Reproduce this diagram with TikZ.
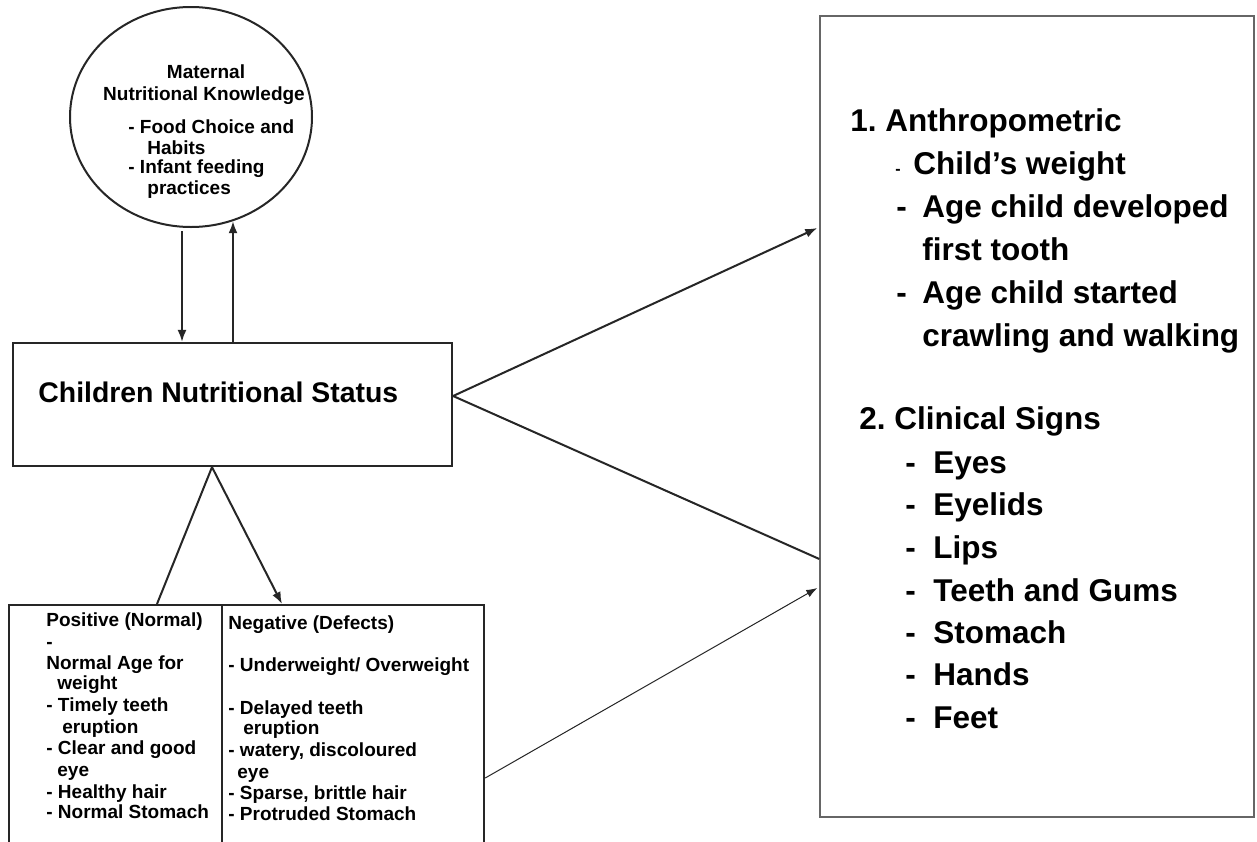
\documentclass[tikz,border=0pt]{standalone}
\usepackage{fontspec}
\setmainfont{Liberation Sans}
\usetikzlibrary{arrows.meta,shapes.geometric,calc}
\frenchspacing
\tikzset{
  base/.style={inner sep=0pt, anchor=west, text depth=0pt, text=black},
  el/.style={base, font=\fontsize{9.5pt}{11pt}\selectfont\bfseries, text height=6.8pt},
  tb/.style={base, font=\fontsize{9.5pt}{11pt}\selectfont\bfseries, text height=6.8pt},
  rt/.style={base, font=\fontsize{15.75pt}{18pt}\selectfont\bfseries, text height=11.3pt},
  box/.style={draw=black!85, line width=1.1pt, fill=none, inner sep=0pt},
  arr/.style={draw=black!85, line width=1pt, -{Latex[length=6pt,width=4.5pt]}},
  ln/.style={draw=black!85, line width=1pt},
  thinarr/.style={draw=black!85, line width=0.5pt, -{Latex[length=5.5pt,width=4pt]}},
}
\newcommand{\dsh}{\makebox[13pt][l]{-}}
\newcommand{\dshb}{\makebox[14pt][l]{-}}
\begin{document}
\begin{tikzpicture}[x=0.5pt,y=-0.5pt]
\useasboundingbox (0,0) rectangle (1257,841);
\clip (0,0) rectangle (1257,841);
\fill[white] (0,0) rectangle (1257,841);

% ellipse
\node[draw=black!85, line width=1pt, ellipse, minimum width=121pt, minimum height=110pt, inner sep=0pt] (mnk) at (191,117) {};
\node[el, anchor=center] (m1) at (206,72) {Maternal};
\node[el, anchor=center] (m2) at (204,94) {Nutritional Knowledge};
\node[el] (m3) at (128,127) {- Food Choice and};
\node[el] (m4) at (147,148) {Habits};
\node[el] (m5) at (128,167) {- Infant feeding};
\node[el] (m6) at (147,188) {practices};

% central box
\node[box, minimum width=219.5pt, minimum height=61.5pt] (cns) at (232.5,404.5) {};
\node[base, font=\fontsize{14.2pt}{16pt}\selectfont\bfseries, text height=10.2pt] (cnst) at (38,392) {Children Nutritional Status};

% arrows ellipse <-> box
\coordinate (d1) at (182,0);
\coordinate (u1) at (233,0);
\draw[arr] (d1 |- mnk.south) ++(0,3) -- (cns.north -| d1);
\draw[arr] (cns.north -| u1) -- (u1 |- mnk.-68);

% bottom table
\node[box, anchor=north west, minimum width=237.5pt, minimum height=160pt] (tbl) at (8,604) {};
\coordinate (dv) at (222,0);
\draw[line width=0.8pt, black!85] (tbl.north -| dv) -- (tbl.south -| dv);

\node[tb] (p1) at (46,620) {Positive (Normal)};
\node[tb] (p2) at (46,642) {-};
\node[tb] (p3) at (46,663) {Normal Age for};
\node[tb] (p4) at (57,683) {weight};
\node[tb] (p5) at (46,705) {- Timely teeth};
\node[tb] (p6) at (62,727) {eruption};
\node[tb] (p7) at (46,748) {- Clear and good};
\node[tb] (p8) at (57,770) {eye};
\node[tb] (p9) at (46,792) {- Healthy hair};
\node[tb] (p10) at (46,812) {- Normal Stomach};

\node[tb] (n1) at (228,623) {Negative (Defects)};
\node[tb] (n2) at (228,665) {- Underweight/ Overweight};
\node[tb] (n3) at (228,708) {- Delayed teeth};
\node[tb] (n4) at (243,728) {eruption};
\node[tb] (n5) at (228,750) {- watery, discoloured};
\node[tb] (n6) at (237,772) {eye};
\node[tb] (n7) at (228,793) {- Sparse, brittle hair};
\node[tb] (n8) at (228,814) {- Protruded Stomach};

% triangle connectors
\coordinate (apx) at (212,0);
\coordinate (tl) at (157,0);
\coordinate (tr) at (282,0);
\draw[ln] (cns.south -| apx) -- (tbl.north -| tl);
\draw[arr] (cns.south -| apx) -- (tbl.north -| tr);

% right box
\node[draw=black!60, line width=0.7pt, inner sep=0pt, minimum width=217pt, minimum height=400.5pt] (meas) at (1037,416.5) {};

\node[rt] (r1) at (850,120) {1. Anthropometric};
\node[rt] (r2) at (895,163) {\makebox[9pt][l]{\fontsize{8pt}{8pt}\selectfont -}Child’s weight};
\node[rt] (r3) at (896,206) {\dsh Age child developed};
\node[rt] (r4) at (922,249) {first tooth};
\node[rt] (r5) at (896,292) {\dsh Age child started};
\node[rt] (r6) at (922,335) {crawling and walking};
\node[rt] (r7) at (859,418) {2. Clinical Signs};
\node[rt] (r8) at (905,462) {\dshb Eyes};
\node[rt] (r9) at (905,504) {\dshb Eyelids};
\node[rt] (r10) at (905,547) {\dshb Lips};
\node[rt] (r11) at (905,590) {\dshb Teeth and Gums};
\node[rt] (r12) at (905,632) {\dshb Stomach};
\node[rt] (r13) at (905,674) {\dshb Hands};
\node[rt] (r14) at (905,717) {\dshb Feet};

% connectors to right box
\coordinate (cr) at (0,396);
\coordinate (a1) at (0,228);
\coordinate (a2) at (0,559);
\coordinate (a3s) at (0,778);
\coordinate (a3e) at (0,588);
\draw[arr] (cns.east |- cr) -- ($(meas.west |- a1)+(-2,0)$);
\draw[ln] (cns.east |- cr) -- (meas.west |- a2);
\draw[thinarr] (tbl.east |- a3s) -- ($(meas.west |- a3e)+(-2,0)$);
\end{tikzpicture}
\end{document}
